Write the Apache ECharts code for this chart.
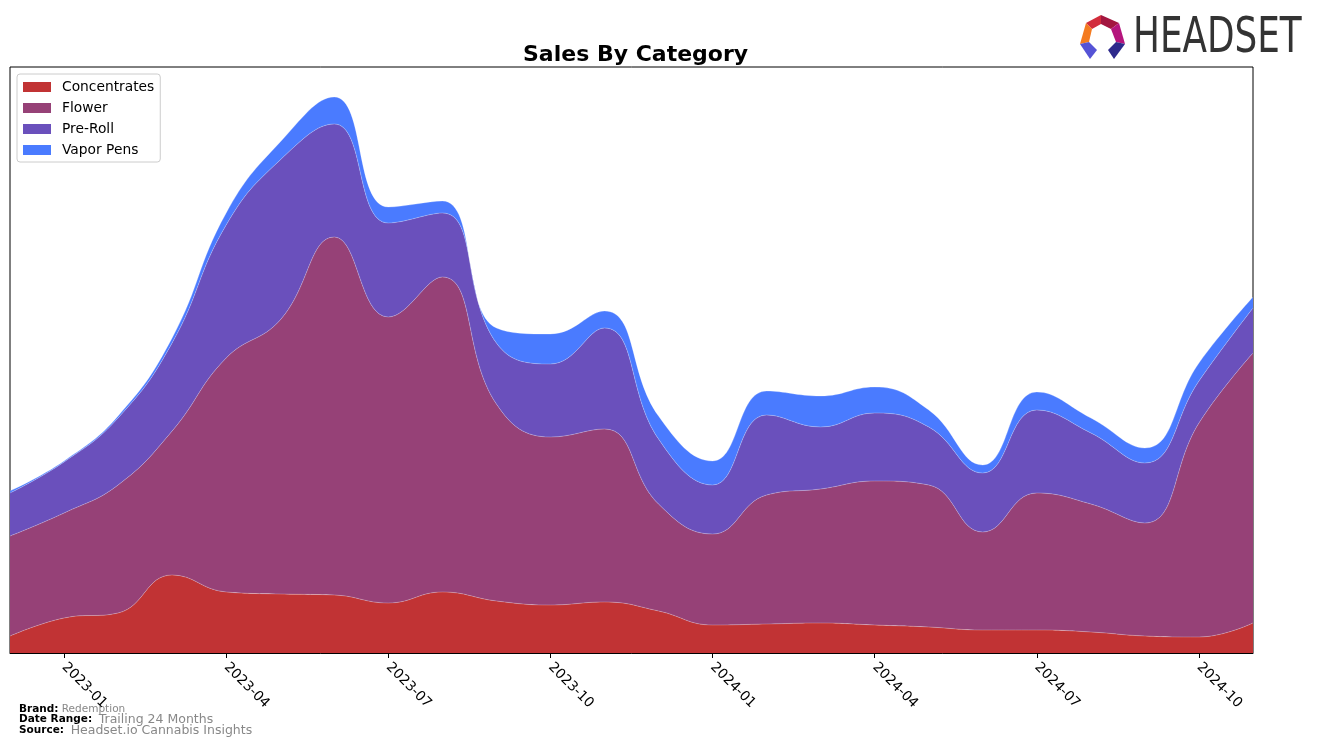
<!DOCTYPE html>
<html>
<head>
<meta charset="utf-8">
<script src="https://cdn.jsdelivr.net/npm/echarts@6/dist/echarts.min.js"></script>
<style>
html,body{margin:0;padding:0;background:#fff;}
#chart{width:1317px;height:747px;}
</style>
</head>
<body>
<div id="chart"></div>
<script>
// ---- data ----
const months = ['2022-12','2023-01','2023-02','2023-03','2023-04','2023-05','2023-06','2023-07','2023-08','2023-09','2023-10','2023-11','2023-12','2024-01','2024-02','2024-03','2024-04','2024-05','2024-06','2024-07','2024-08','2024-09','2024-10','2024-11'];
const concentrates = [17,35,40,78,61,59,58,50,61,52,48,51,42,28,29,30,28,26,23,23,21,17,16,30];
const flower       = [100,105,128,144,234,274,358,286,315,197,168,173,107,91,129,134,144,142,98,137,128,113,214,270];
const preRoll      = [43,51,67,88,133,160,113,94,64,61,73,101,65,49,80,62,68,58,59,83,71,60,42,45];
const vaporPens    = [2,1,2,5,12,18,27,16,12,15,30,17,23,24,24,31,26,17,8,18,15,15,18,11];
const tickLabels   = ['2023-01','2023-04','2023-07','2023-10','2024-01','2024-04','2024-07','2024-10'];
const seriesNames  = ['Concentrates','Flower','Pre-Roll','Vapor Pens'];
const colors       = ['#C13334','#964177','#6A50BC','#4A7BFF'];

const seriesData = [concentrates, flower, preRoll, vaporPens];
function isTick(index, value){ return tickLabels.indexOf(months[index]) >= 0; }

const chart = echarts.init(document.getElementById('chart'), null, {renderer:'canvas'});
const option = {
  animation: false,
  backgroundColor: '#ffffff',
  title: {
    text: 'Sales By Category',
    left: 518, top: 39,
    textStyle: {fontFamily: 'DejaVu Sans', fontSize: 22, fontWeight: 'bold', color: '#000'}
  },
  legend: {
    orient: 'vertical', left: 17, top: 74,
    data: seriesNames,
    icon: 'rect', itemWidth: 28, itemHeight: 10, itemGap: 7,
    padding: [6, 6, 5, 6],
    backgroundColor: '#fff', borderColor: '#cccccc', borderWidth: 1, borderRadius: 3,
    textStyle: {fontFamily: 'DejaVu Sans', fontSize: 13.8, color: '#000', padding: [0,0,0,6]}
  },
  grid: {left: 10, right: 64, top: 67, bottom: 94, show: true, borderColor: '#000', borderWidth: 1, containLabel: false},
  xAxis: {
    type: 'category',
    data: months,
    boundaryGap: false,
    axisLine: {show: true, lineStyle: {color: '#000', width: 1}},
    axisTick: {show: true, length: 5, lineStyle: {color: '#000'}, interval: isTick},
    axisLabel: {
      interval: isTick,
      rotate: -45, margin: 12,
      fontFamily: 'DejaVu Sans', fontSize: 13.8, color: '#000'
    },
    splitLine: {show: false}
  },
  yAxis: {
    type: 'value', min: 0, max: 586,
    axisLine: {show: false}, axisTick: {show: false}, axisLabel: {show: false}, splitLine: {show: false}
  },
  series: seriesNames.map((name, i) => ({
    name: name, type: 'line', stack: 'total', smooth: 0.45, symbol: 'none',
    itemStyle: {color: colors[i]},
    lineStyle: {width: 0.7, color: 'rgba(255,255,255,0.35)'},
    areaStyle: {color: colors[i], opacity: 1},
    data: seriesData[i]
  })),
  graphic: [
    // footer
    {type: 'text', left: 19, top: 703, style: {
      text: '{b|Brand:} {g|Redemption}', rich: {
        b: {fontFamily: 'DejaVu Sans', fontWeight: 'bold', fontSize: 10.5, fill: '#000'},
        g: {fontFamily: 'DejaVu Sans', fontSize: 10.5, fill: '#888'}}}},
    {type: 'text', left: 19, top: 713, style: {
      text: '{b|Date Range:}  {g|Trailing 24 Months}', rich: {
        b: {fontFamily: 'DejaVu Sans', fontWeight: 'bold', fontSize: 10.5, fill: '#000'},
        g: {fontFamily: 'DejaVu Sans', fontSize: 12.5, fill: '#888'}}}},
    {type: 'text', left: 19, top: 724, style: {
      text: '{b|Source:}  {g|Headset.io Cannabis Insights}', rich: {
        b: {fontFamily: 'DejaVu Sans', fontWeight: 'bold', fontSize: 10.5, fill: '#000'},
        g: {fontFamily: 'DejaVu Sans', fontSize: 12.5, fill: '#888'}}}},
    // logo icon
    {type: 'polygon', shape: {points: [[1086,23],[1101,15],[1101,24],[1092,29]]}, style: {fill: '#D22D3C'}},
    {type: 'polygon', shape: {points: [[1101,15],[1119,23],[1111,29],[1101,24]]}, style: {fill: '#A3163F'}},
    {type: 'polygon', shape: {points: [[1086,23],[1092,29],[1089,42],[1080,44]]}, style: {fill: '#F47B20'}},
    {type: 'polygon', shape: {points: [[1119,23],[1125,44],[1116,42],[1111,29]]}, style: {fill: '#B5157D'}},
    {type: 'polygon', shape: {points: [[1080,44],[1089,42],[1097,50],[1090,59]]}, style: {fill: '#5553D6'}},
    {type: 'polygon', shape: {points: [[1125,44],[1116,42],[1108,50],[1114,59]]}, style: {fill: '#2E2A8C'}},
    {type: 'text', left: 1133, top: 15, scaleX: 0.73, style: {
      text: 'HEADSET', fontFamily: 'DejaVu Sans', fontSize: 49, fill: '#333333'}}
  ]
};
chart.setOption(option);
</script>
</body>
</html>
